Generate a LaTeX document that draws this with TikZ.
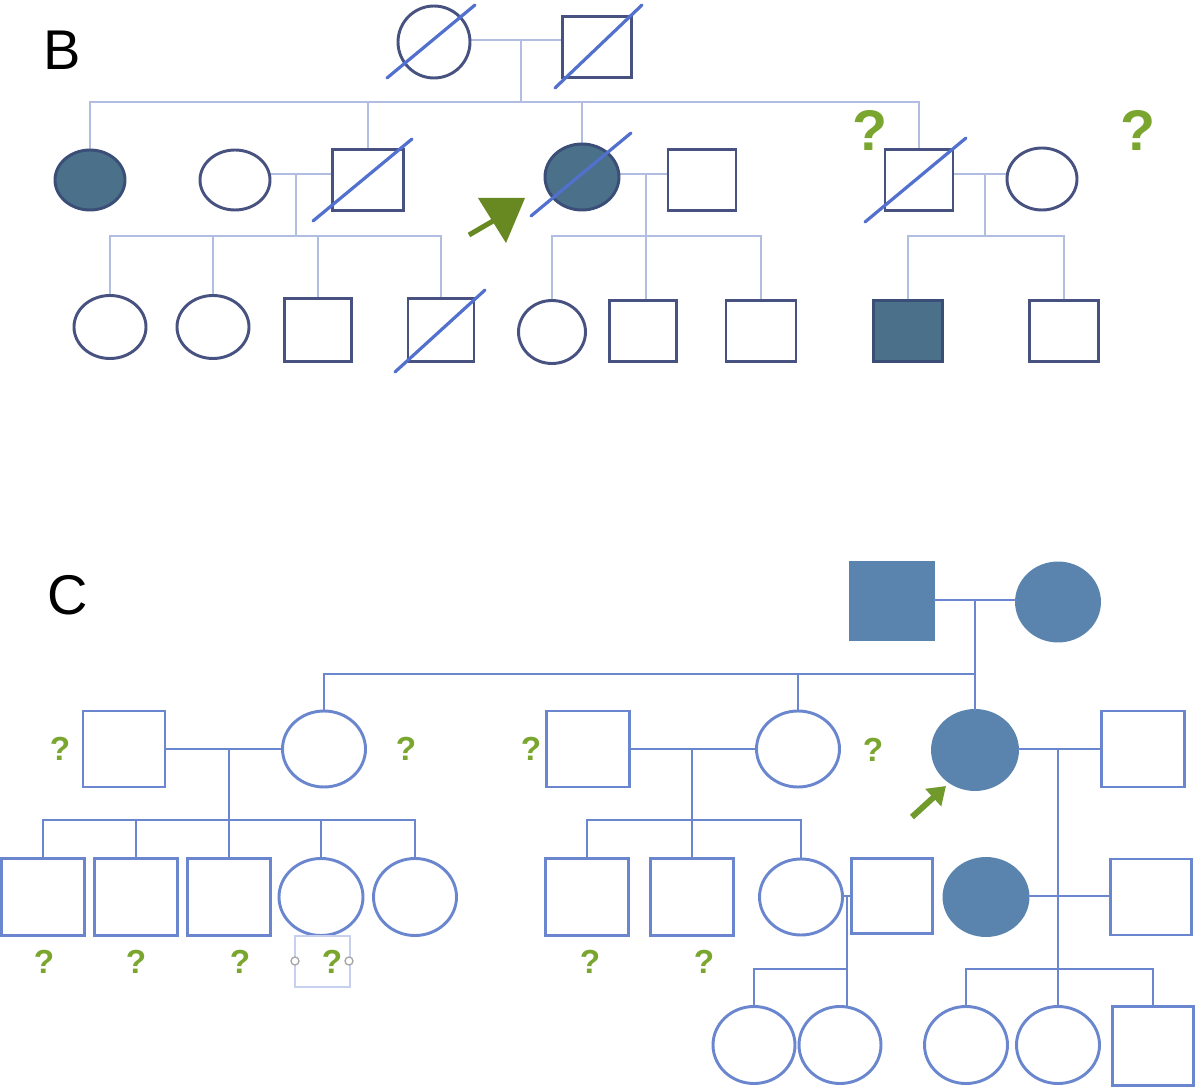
\documentclass[tikz,border=0pt]{standalone}
\usepackage{fontspec}
\setmainfont{Liberation Sans}
\usetikzlibrary{shapes.geometric,calc,arrows.meta}
\definecolor{bOut}{RGB}{72,82,128}
\definecolor{bLine}{RGB}{178,190,225}
\definecolor{bSlash}{RGB}{82,112,205}
\definecolor{bFill}{RGB}{74,112,138}
\definecolor{bFillOut}{RGB}{58,78,120}
\definecolor{cLine}{RGB}{106,134,206}
\definecolor{cFill}{RGB}{90,132,174}
\definecolor{qGreen}{RGB}{122,166,48}
\definecolor{aGreen}{RGB}{104,136,34}
\definecolor{cArr}{RGB}{112,154,44}
\definecolor{selBox}{RGB}{200,208,240}
\tikzset{
 sz/.style 2 args={minimum width=#1*0.75pt, minimum height=#2*0.75pt},
 bfem/.style={ellipse, draw=bOut, line width=2.2pt, inner sep=0pt, outer sep=0pt, fill=white},
 bmal/.style={rectangle, draw=bOut, line width=2.2pt, inner sep=0pt, outer sep=0pt, fill=white},
 baff/.style={fill=bFill, draw=bFillOut},
 bline/.style={draw=bLine, line width=2.2pt},
 bslash/.style={draw=bSlash, line width=2.4pt, line cap=round},
 cfem/.style={ellipse, draw=cLine, line width=2.2pt, inner sep=0pt, outer sep=0pt},
 cmal/.style={rectangle, draw=cLine, line width=2.2pt, inner sep=0pt, outer sep=0pt},
 caff/.style={fill=cFill, draw=cFill},
 cline/.style={draw=cLine, line width=2.2pt},
 qbig/.style={text=qGreen, font=\fontsize{43}{43}\selectfont\bfseries, inner sep=0pt},
 qsmall/.style={text=qGreen, font=\fontsize{25}{25}\selectfont\bfseries, inner sep=0pt},
 panel/.style={font=\fontsize{42}{42}\selectfont, inner sep=0pt},
}
\newcommand\decslash[3]{\draw[bslash] ($(#1)+(#2)$) -- ($(#1)+(#3)$);}
\begin{document}
\begin{tikzpicture}[x=0.75pt,y=-0.75pt]
\useasboundingbox (0,0) rectangle (1200,1087);
% ================= Panel B =================
\node[panel] (lblB) at (62,50) {B};
\coordinate (bm1) at (0,40);
\coordinate (bs1) at (0,102);
\coordinate (bm2) at (0,174);
\coordinate (bs2) at (0,236);
\coordinate (bc1) at (521,0);
\coordinate (bc2) at (296,0);
\coordinate (bc3) at (646,0);
\coordinate (bc4) at (985,0);
% connectors (drawn first)
\draw[bline] (434,40) -- (597,40);
\draw[bline] (bc1 |- bm1) -- (bc1 |- bs1);
\draw[bline] (90,150) |- (919,102) -- (919,150);
\draw[bline] (368,150) -- (368,102);
\draw[bline] (582,144) -- (582,102);
\draw[bline] (235,174) -- (368,174);
\draw[bline] (bc2 |- bm2) -- (bc2 |- bs2);
\draw[bline] (110,296) |- (441,236) -- (441,299);
\draw[bline] (213,296) -- (213,236);
\draw[bline] (318,299) -- (318,236);
\draw[bline] (582,174) -- (702,174);
\draw[bline] (bc3 |- bm2) -- (646,300);
\draw[bline] (552,300) |- (761,236) -- (761,300);
\draw[bline] (919,174) -- (1042,174);
\draw[bline] (bc4 |- bm2) -- (bc4 |- bs2);
\draw[bline] (908,300) |- (1064,236) -- (1064,300);
% individuals
\node[bfem, sz={72}{72}] (b1f) at (434,42) {};
\node[bmal, sz={69}{61}] (b1m) at (597,47) {};
\node[bfem, baff, sz={70}{60}] (b2a) at (90,180) {};
\node[bfem, sz={70}{60}] (b2b) at (235,180) {};
\node[bmal, sz={71}{61}] (b2c) at (368,180) {};
\node[bfem, baff, sz={74}{66}] (b2e) at (582,177) {};
\node[bmal, sz={68}{61}] (b2f) at (702,180) {};
\node[bmal, sz={68}{61}] (b2h) at (919,180) {};
\node[bfem, sz={70}{62}] (b2i) at (1042,179) {};
\node[bfem, sz={72}{63}] (b3a) at (110,327) {};
\node[bfem, sz={72}{63}] (b3b) at (213,327) {};
\node[bmal, sz={67}{63}] (b3c) at (318,330) {};
\node[bmal, sz={66}{63}] (b3d) at (441,330) {};
\node[bfem, sz={67}{63}] (b3e) at (552,332) {};
\node[bmal, sz={67}{61}] (b3f) at (643,331) {};
\node[bmal, sz={70}{61}] (b3g) at (761,331) {};
\node[bmal, baff, sz={69}{61}] (b3h) at (908,331) {};
\node[bmal, sz={69}{61}] (b3i) at (1064,331) {};
% deceased slashes
\decslash{b1f}{-47,36}{41,-37}
\decslash{b1m}{-42,41}{45,-42}
\decslash{b2c}{-55,41}{44,-41}
\decslash{b2e}{-51,39}{49,-44}
\decslash{b2h}{-54,42}{47,-42}
\decslash{b3d}{-46,42}{44,-40}
% question marks
\node[qbig] (bq1) at (870,130) {?};
\node[qbig] (bq2) at (1138,130) {?};
% proband arrow B
\fill[aGreen] (478,198) -- (525,198) -- (506,243) -- cycle;
\draw[aGreen, line width=3.8pt] (469,235) -- (493,221);
% ================= Panel C =================
\node[panel] (lblC) at (68,595) {C};
\node[cmal, caff, sz={83}{77}] (c1m) at (892,601) {};
\node[cfem, caff, sz={83}{78}] (c1f) at (1058,602) {};
\node[cmal, sz={82}{76}] (c2a) at (124,749) {};
\node[cfem, sz={83}{76}] (c2b) at (324,749) {};
\node[cmal, sz={83}{76}] (c2c) at (588,749) {};
\node[cfem, sz={83}{76}] (c2d) at (798,749) {};
\node[cfem, caff, sz={85}{79}] (c2e) at (975,750) {};
\node[cmal, sz={83}{76}] (c2f) at (1143,749) {};
\node[cmal, sz={83}{77}] (c3a) at (43,897) {};
\node[cmal, sz={83}{77}] (c3b) at (136,897) {};
\node[cmal, sz={83}{77}] (c3c) at (229,897) {};
\node[cfem, sz={84}{77}] (c3d) at (321,897) {};
\node[cfem, sz={83}{77}] (c3e) at (415,897) {};
\node[cmal, sz={83}{77}] (c3f) at (587,897) {};
\node[cmal, sz={83}{77}] (c3g) at (692,897) {};
\node[cfem, sz={83}{76}] (c3h) at (801,897) {};
\node[cmal, sz={81}{75}] (c3i) at (892,896) {};
\node[cfem, caff, sz={84}{77}] (c3j) at (986,897) {};
\node[cmal, sz={81}{76}] (c3k) at (1151,897) {};
\node[cfem, sz={82}{77}] (c4a) at (754,1045) {};
\node[cfem, sz={82}{77}] (c4b) at (840,1045) {};
\node[cfem, sz={83}{77}] (c4c) at (966,1045) {};
\node[cfem, sz={83}{77}] (c4d) at (1058,1045) {};
\node[cmal, sz={81}{79}] (c4e) at (1153,1046) {};
\coordinate (cm1) at (0,600);
\coordinate (cs1) at (0,674);
\coordinate (cs2) at (0,820);
\coordinate (cm3) at (0,896);
\coordinate (cs3) at (0,969);
\coordinate (cc5) at (847,0);
\draw[cline] (c1m.east |- cm1) -- (c1f.west |- cm1);
\draw[cline] (c2e.north |- cm1) -- (c2e.north);
\draw[cline] (c2b.north) |- (c2e.north |- cs1);
\draw[cline] (c2d.north) -- (c2d.north |- cs1);
\draw[cline] (c2a.east) -- (c2b.west);
\draw[cline] (c3c.north |- c2a.east) -- (c3c.north);
\draw[cline] (c3a.north) |- (c3e.north |- cs2) -- (c3e.north);
\draw[cline] (c3b.north) -- (c3b.north |- cs2);
\draw[cline] (c3d.north) -- (c3d.north |- cs2);
\draw[cline] (c2c.east) -- (c2d.west);
\draw[cline] (c3g.north |- c2c.east) -- (c3g.north);
\draw[cline] (c3f.north) |- (c3h.north |- cs2) -- (c3h.north);
\draw[cline] (c2e.east |- c2f.west) -- (c2f.west);
\draw[cline] (c4d.north |- c2f.west) -- (c4d.north);
\draw[cline] (c3j.east |- cm3) -- (c3k.west |- cm3);
\draw[cline] (c4c.north) |- (c4e.north |- cs3) -- (c4e.north);
\draw[cline] (c3h.east |- cm3) -- (c3i.west |- cm3);
\draw[cline] (cc5 |- cm3) -- (cc5 |- c4b.north);
\draw[cline] (c4a.north) |- (cc5 |- cs3);
% question marks
\foreach \n/\x/\y in {q1/60/749, q2/406/749, q3/531/749, q4/873/750,
  q5/44/962, q6/136/962, q7/240/962, q8/332/962, q9/590/962, q10/704/962}
  \node[qsmall] (c\n) at (\x,\y) {?};
% selection box artefact
\draw[selBox, line width=1pt] (295,936) rectangle (350,987);
\draw[gray!70, fill=white, line width=1pt] (295,961) circle[radius=4];
\draw[gray!70, fill=white, line width=1pt] (349,961) circle[radius=4];
% proband arrow C
\coordinate (ca1) at (912,817);
\coordinate (ca2) at (946,786);
\draw[cArr, line width=4.5pt, -{Triangle[length=13pt,width=17pt]}] (ca1) -- (ca2);
\end{tikzpicture}
\end{document}
